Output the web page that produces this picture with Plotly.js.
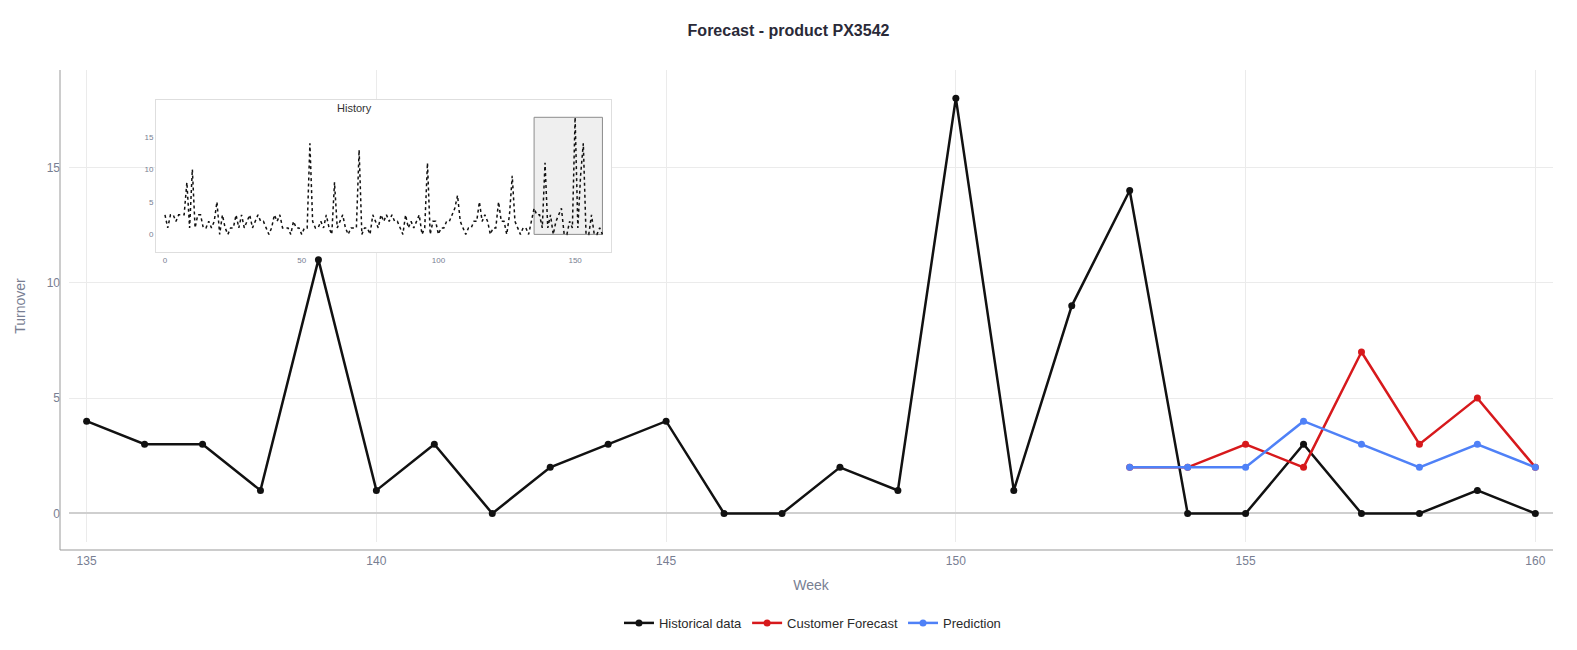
<!DOCTYPE html>
<html>
<head>
<meta charset="utf-8">
<script src="https://cdn.plot.ly/plotly-3.0.1.min.js"></script>
<style>html,body{margin:0;padding:0;background:#fff}#chart{width:1577px;height:650px}</style>
</head>
<body>
<div id="chart"></div>
<script>
// Main view: weeks 135-160
const weeks = [135,136,137,138,139,140,141,142,143,144,145,146,147,148,149,150,151,152,153,154,155,156,157,158,159,160];
const historical = [4,3,3,1,11,1,3,0,2,3,4,0,0,2,1,18,1,9,14,0,0,3,0,0,1,0];
const forecastWeeks = [153,154,155,156,157,158,159,160];
const customerForecast = [2,2,3,2,7,3,5,2];
const prediction = [2,2,2,4,3,2,3,2];
// Earlier history (weeks 0-134), shown only in the inset
const earlyHistory = [
  3,1,3,3,2,3,3,3,8,1,
  10,1,3,3,1,1,2,1,2,5,
  0,3,1,0,1,1,3,1,3,1,
  2,3,1,2,3,2,2,1,0,1,
  3,2,3,1,1,1,0,2,1,1,
  0,1,1,14,2,1,1,2,1,3,
  1,0,8,1,2,3,1,0,1,1,
  1,13,0,1,1,0,3,2,1,3,
  2,3,2,3,2,2,1,0,3,1,
  2,1,2,3,0,1,11,0,2,2,
  0,1,1,2,2,3,4,6,2,1,
  0,1,1,2,2,5,2,3,2,0,
  1,1,5,2,2,0,3,9,2,1,
  0,1,1,0,2
];
const mainTicks = [135,140,145,150,155,160];
const insetXTicks = [0,50,100,150];
const insetYTicks = [0,5,10,15];

const fullHistory = earlyHistory.concat(historical);
const fullWeeks = fullHistory.map((_, i) => i);

const axisGray = 'rgb(120,126,146)';

const traces = [
  {x: weeks, y: historical, name: 'Historical data', type: 'scatter', mode: 'lines+markers',
   line: {color: '#111111', width: 2.5}, marker: {color: '#111111', size: 7}},
  {x: forecastWeeks, y: customerForecast, name: 'Customer Forecast', type: 'scatter', mode: 'lines+markers',
   line: {color: '#d7191c', width: 2.5}, marker: {color: '#d7191c', size: 7}},
  {x: forecastWeeks, y: prediction, name: 'Prediction', type: 'scatter', mode: 'lines+markers',
   line: {color: '#4f81f7', width: 2.5}, marker: {color: '#4f81f7', size: 7}},
  {x: fullWeeks, y: fullHistory, name: 'History', type: 'scatter', mode: 'lines',
   xaxis: 'x2', yaxis: 'y2', showlegend: false,
   line: {color: '#111111', width: 1.5, dash: 'dot'}}
];

const layout = {
  width: 1577, height: 650,
  paper_bgcolor: '#ffffff', plot_bgcolor: '#ffffff',
  font: {family: '"Liberation Sans", Arial, sans-serif', color: '#2a2a2a'},
  title: {text: '<b>Forecast - product PX3542</b>', x: 0.5, xref: 'container', xanchor: 'center',
          y: 1 - 30.2/650, yanchor: 'middle', font: {size: 16, color: '#2a2a38'}},
  margin: {l: 60, r: 24, t: 70, b: 100},
  showlegend: true,
  legend: {orientation: 'h', x: 0.504, xanchor: 'center', y: -0.152, yanchor: 'middle',
           font: {size: 13, color: '#2a2a2a'}},
  xaxis: {domain: [0.006, 1], range: [134.695, 160.305], anchor: 'free', position: 0,
          showline: false, showgrid: true, gridcolor: '#ebebeb', zeroline: false, ticks: '',
          tickvals: mainTicks, tickfont: {size: 12, color: axisGray}, ticklabelstandoff: 2,
          title: {text: 'Week', font: {size: 14, color: axisGray}, standoff: 13}},
  yaxis: {domain: [0.0167, 1], range: [-1.235, 19.22], anchor: 'free', position: 0,
          showline: false, showgrid: true, gridcolor: '#ebebeb',
          zeroline: true, zerolinecolor: '#cfcfcf', zerolinewidth: 2, ticks: '',
          tickvals: [0,5,10,15], tickfont: {size: 12, color: axisGray},
          title: {text: 'Turnover', font: {size: 14, color: axisGray}, standoff: 16}},
  xaxis2: {domain: [0.0643, 0.369], anchor: 'y2', range: [-3.29, 163.1],
           showline: true, mirror: true, linecolor: '#dedede', linewidth: 1,
           showgrid: false, zeroline: false, ticks: '',
           tickvals: insetXTicks, tickfont: {size: 8, color: axisGray}},
  yaxis2: {domain: [0.620, 0.9375], anchor: 'x2', range: [-2.77, 20.66],
           showline: true, mirror: true, linecolor: '#dedede', linewidth: 1,
           showgrid: false, zeroline: false, ticks: '',
           tickvals: insetYTicks, tickfont: {size: 8, color: axisGray}},
  shapes: [
    {type: 'rect', xref: 'x2', yref: 'y2', x0: weeks[0], x1: weeks[weeks.length - 1],
     y0: 0, y1: Math.max(...historical), fillcolor: '#efefef',
     line: {color: '#8c8c8c', width: 1}, layer: 'below'},
    {type: 'line', xref: 'paper', yref: 'paper', x0: 0, x1: 1, y0: 0, y1: 0,
     line: {color: '#999999', width: 1}, layer: 'above'},
    {type: 'line', xref: 'paper', yref: 'paper', x0: 0, x1: 0, y0: 0, y1: 1,
     line: {color: '#999999', width: 1}, layer: 'above'}
  ],
  annotations: [
    {text: 'History', xref: 'paper', yref: 'paper', x: 0.197, y: 0.92,
     xanchor: 'center', yanchor: 'middle', showarrow: false,
     font: {size: 11, color: '#333333'}}
  ]
};

Plotly.newPlot('chart', traces, layout, {displayModeBar: false, responsive: false});
</script>
</body>
</html>
